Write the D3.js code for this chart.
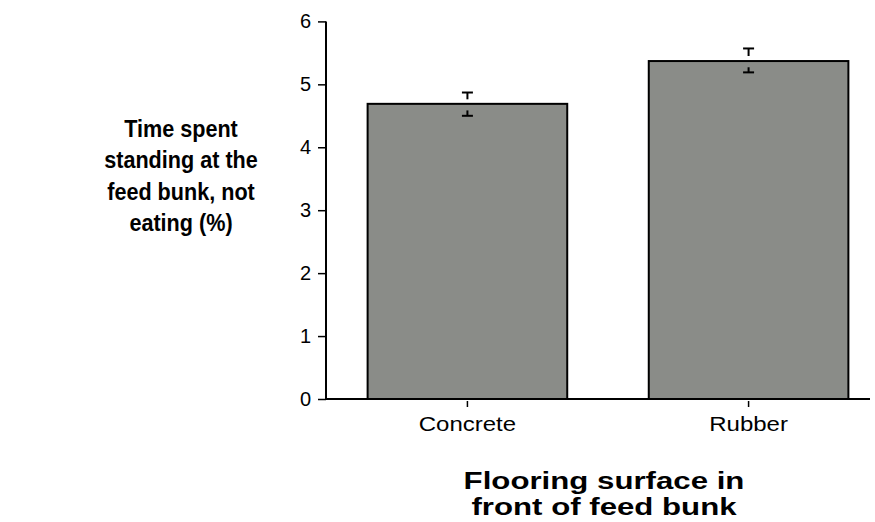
<!DOCTYPE html>
<html>
<head>
<meta charset="utf-8">
<script src="https://cdn.jsdelivr.net/npm/d3@7"></script>
<style>
  body { margin: 0; background: #fff; }
  text { font-family: Arial, "Liberation Sans", sans-serif; }
</style>
</head>
<body>
<div id="chart"></div>
<script>
// flooring surface vs time at feed bunk, mean + error
var categories = ['Concrete', 'Rubber'];
var means = [4.69, 5.37];
var errLow = [4.50, 5.19];
var errHigh = [4.87, 5.57];
var yTicks = [0, 1, 2, 3, 4, 5, 6];
var yTitle = ['Time spent', 'standing at the', 'feed bunk, not', 'eating (%)'];
var xTitle = ['Flooring surface in', 'front of feed bunk'];

var width = 875, height = 522;

var svg = d3.select('#chart').append('svg')
              .attr('width', width)
              .attr('height', height);

var x = d3.scaleBand()
          .domain(categories)
          .range([326, 890])
          .paddingInner(0.29)
          .paddingOuter(0.148);

var y = d3.scaleLinear()
          .domain([0, 6])
          .range([399, 21.4]);

// bars
svg.selectAll('.bar')
    .data(categories).enter()
    .append('rect')
    .attr('class', 'bar')
    .attr('x', function(d) { return x(d); })
    .attr('y', function(d, i) { return y(means[i]); })
    .attr('width', x.bandwidth())
    .attr('height', function(d, i) { return y(0) - y(means[i]); })
    .style('fill', '#8a8c88')
    .style('stroke', '#000')
    .style('stroke-width', 2);

// error bars, drawn as short stems off each cap
var cap = 5.5;
categories.forEach(function(c, i) {
  var cx = x(c) + x.bandwidth() / 2;
  var hi = y(errHigh[i]), lo = y(errLow[i]);
  var g = svg.append('g').attr('class', 'err');
  g.append('line').attr('x1', cx - cap).attr('x2', cx + cap).attr('y1', hi).attr('y2', hi);
  g.append('line').attr('x1', cx).attr('x2', cx).attr('y1', hi).attr('y2', hi + (y(means[i]) - hi) * 0.6);
  g.append('line').attr('x1', cx - cap).attr('x2', cx + cap).attr('y1', lo).attr('y2', lo);
  g.append('line').attr('x1', cx).attr('x2', cx).attr('y1', lo).attr('y2', lo - (lo - y(means[i])) * 0.45);
  g.selectAll('line').style('stroke', '#000').style('stroke-width', 2);
});

// y axis
var yAxis = svg.append('g')
    .attr('transform', 'translate(326,0)')
    .call(d3.axisLeft(y).tickValues(yTicks).tickFormat(d3.format('d'))
            .tickSize(8).tickPadding(7).tickSizeOuter(0));
yAxis.select('.domain').attr('d', 'M0,' + y(6) + 'V' + y(0)).style('stroke-width', 2);
yAxis.selectAll('.tick line').style('stroke-width', 1.5);
yAxis.selectAll('.tick text').style('font-size', '20px').style('fill', '#000');

// x axis
var xAxis = svg.append('g')
    .attr('transform', 'translate(0,' + y(0) + ')')
    .call(d3.axisBottom(x).tickSize(8).tickPadding(10).tickSizeOuter(0));
xAxis.select('.domain').attr('d', 'M326,0H870').style('stroke-width', 2);
xAxis.selectAll('.tick line').attr('y1', 2).style('stroke-width', 1.5);
xAxis.selectAll('.tick text')
    .style('font-size', '20px')
    .style('fill', '#000')
    .attr('transform', 'scale(1.2,1)');

// titles
svg.append('g')
    .attr('transform', 'translate(181,0) scale(0.9,1)')
    .append('text')
    .attr('text-anchor', 'middle')
    .style('font-size', '24px')
    .style('font-weight', 'bold')
    .selectAll('tspan')
    .data(yTitle).enter()
    .append('tspan')
    .attr('x', 0)
    .attr('y', function(d, i) { return 137 + i * 31.5; })
    .text(function(d) { return d; });

svg.append('g')
    .attr('transform', 'translate(604,0) scale(1.3,1)')
    .append('text')
    .attr('text-anchor', 'middle')
    .style('font-size', '24px')
    .style('font-weight', 'bold')
    .selectAll('tspan')
    .data(xTitle).enter()
    .append('tspan')
    .attr('x', 0)
    .attr('y', function(d, i) { return 489 + i * 26; })
    .text(function(d) { return d; });
</script>
</body>
</html>
